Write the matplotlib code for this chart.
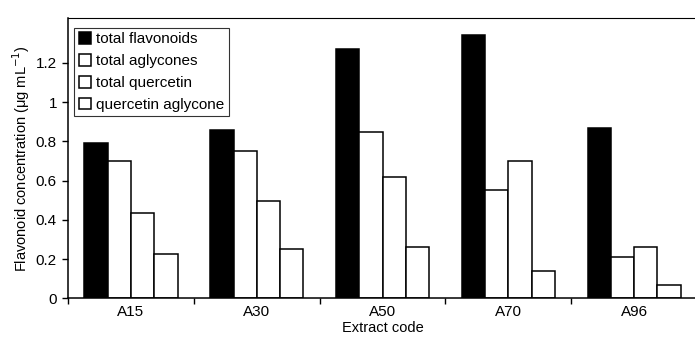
import matplotlib
matplotlib.use('Agg')
import matplotlib.pyplot as plt
import numpy as np

plt.rcParams['font.family'] = ['Liberation Sans', 'DejaVu Sans']

codes = ['A15', 'A30', 'A50', 'A70', 'A96']
total_flavonoids = [0.79, 0.86, 1.27, 1.34, 0.87]
total_aglycones = [0.70, 0.75, 0.85, 0.55, 0.21]
total_quercetin = [0.435, 0.495, 0.62, 0.70, 0.26]
quercetin_aglycone = [0.228, 0.253, 0.26, 0.14, 0.07]
series_names = ['total flavonoids', 'total aglycones', 'total quercetin', 'quercetin aglycone']

fig = plt.figure(figsize=(6.95, 3.43), dpi=100)
ax = fig.add_axes([0.098, 0.13, 0.905, 0.818])

x = np.arange(len(codes))
w = 0.185
series = [total_flavonoids, total_aglycones, total_quercetin, quercetin_aglycone]
faces = ['black', 'white', 'white', 'white']
for i, (vals, fc, name) in enumerate(zip(series, faces, series_names)):
    ax.bar(x + (i - 1.5) * w, vals, w, color=fc, edgecolor='black', linewidth=1.1, label=name)

ax.set_xlim(-0.5, 4.47)
ax.set_ylim(0, 1.43)
ax.set_yticks([0, 0.2, 0.4, 0.6, 0.8, 1.0, 1.2])
ax.set_yticklabels(['0', '0.2', '0.4', '0.6', '0.8', '1', '1.2'])
ax.set_xticks(x)
ax.set_xticklabels(codes)
ax.set_xticks(np.arange(-0.5, 4.6, 1), minor=True)
ax.tick_params(axis='x', which='major', length=0, pad=5, labelsize=11)
ax.tick_params(axis='x', which='minor', length=4, direction='out', width=1)
ax.tick_params(axis='y', length=4, direction='out', width=1, labelsize=11, pad=4)

ax.spines['right'].set_visible(False)
ax.spines['top'].set_linewidth(0.8)
for s in ['left', 'bottom']:
    ax.spines[s].set_linewidth(1.1)

ax.set_ylabel('Flavonoid concentration (μg mL$^{-1}$)', fontsize=10.5, labelpad=3)
ax.set_xlabel('Extract code', fontsize=10.5, labelpad=1)

leg = ax.legend(loc='upper left', bbox_to_anchor=(0.01, 0.965), frameon=True, fancybox=False,
                edgecolor='black', fontsize=11, handlelength=0.8, handleheight=0.8,
                handletextpad=0.3, labelspacing=0.5, borderpad=0.3, borderaxespad=0)
leg.get_frame().set_linewidth(0.8)

fig.savefig('out.png', dpi=100)
